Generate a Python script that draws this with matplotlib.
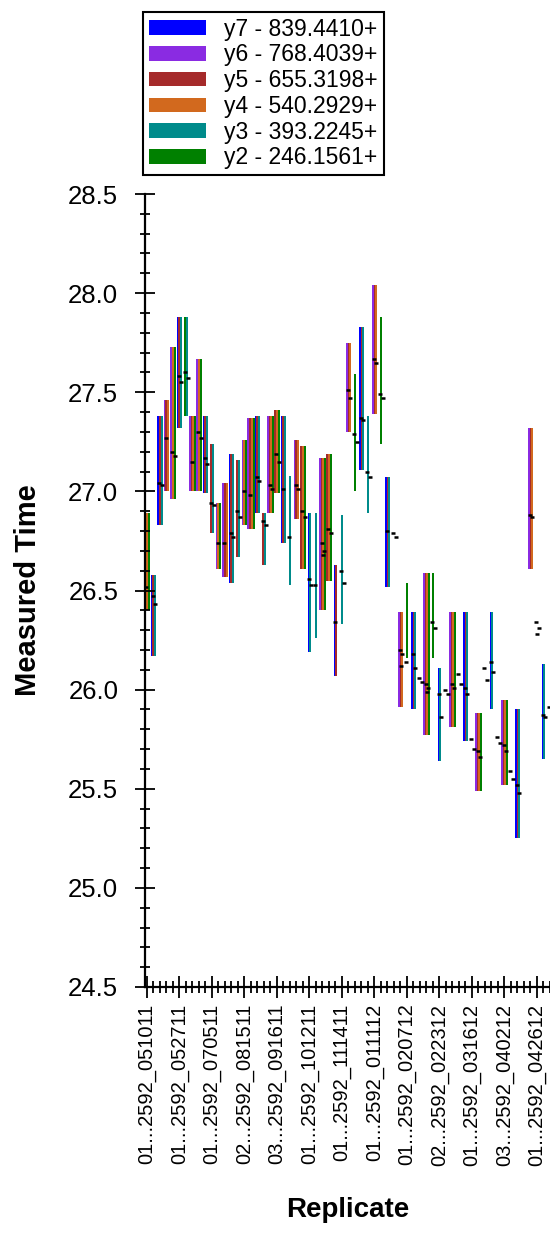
import numpy as np
import matplotlib
matplotlib.use("Agg")
import matplotlib.pyplot as plt
from matplotlib.ticker import MultipleLocator

plt.rcParams['font.family'] = ['Liberation Sans', 'DejaVu Sans']

# range of measured time for each replicate (nan = no range bar)
bar_lo = [26.40, 26.17, 26.83, 27.00, 26.96, 27.32, 27.38, 27.00, 27.00, 26.99,
          26.79, 26.61, 26.57, 26.54, 26.67, 26.83, 26.81, 26.89, 26.63, 26.89,
          26.99, 26.74, 26.53, 26.86, 26.61, 26.19, 26.26, 26.40, 26.55, 26.07,
          26.33, 27.30, 27.00, 27.11, 26.89, 27.39, 27.24, 26.52, np.nan, 25.91,
          26.16, 25.90, np.nan, 25.77, 26.16, 25.64, np.nan, 25.81, np.nan, 25.74,
          np.nan, 25.49, np.nan, 25.90, np.nan, 25.52, np.nan, 25.25, np.nan, 26.61,
          np.nan, 25.65, np.nan]
bar_hi = [26.89, 26.58, 27.38, 27.46, 27.73, 27.88, 27.88, 27.38, 27.67, 27.38,
          27.24, 26.94, 27.04, 27.19, 27.16, 27.26, 27.37, 27.38, 26.89, 27.38,
          27.41, 27.38, 27.08, 27.26, 27.23, 26.89, 26.89, 27.17, 27.19, 26.63,
          26.88, 27.75, 27.59, 27.83, 27.38, 28.04, 27.88, 27.07, np.nan, 26.39,
          26.54, 26.39, np.nan, 26.59, 26.59, 26.11, np.nan, 26.39, np.nan, 26.39,
          np.nan, 25.88, np.nan, 26.39, np.nan, 25.95, np.nan, 25.90, np.nan, 27.32,
          np.nan, 26.13, np.nan]
# which y series have a range in each replicate
bar_series = ["642", "753", "753", "654", "642", "753", "23", "6542", "642", "753",
              "53", "642", "654", "753", "53", "642", "6542", "753", "53", "6542",
              "542", "753", "3", "654", "542", "73", "3", "6542", "542", "75",
              "3", "654", "2", "753", "3", "654", "2", "753", "", "654",
              "2", "753", "", "6542", "2", "73", "", "6542", "", "753",
              "", "6542", "", "73", "", "6542", "", "753", "", "654",
              "", "73", ""]

# individual means (black dashes)
mark_cat = [0, 1, 1, 2, 2, 3, 4, 4, 5, 5, 6, 6, 7, 8, 8, 9, 9, 10, 10, 11, 12,
            13, 13, 14, 14, 15, 16, 17, 17, 18, 18, 19, 19, 20, 20, 21, 22,
            23, 23, 24, 24, 25, 25, 26, 27, 27, 27, 28, 28, 29, 30, 30,
            31, 31, 32, 32, 33, 33, 34, 34, 35, 35, 36, 36, 37, 38, 38,
            39, 39, 39, 40, 41, 41, 42, 42, 43, 43, 43, 44, 44, 45, 45,
            46, 46, 47, 47, 48, 48, 49, 49, 50, 50, 51, 51, 52, 52, 53, 53,
            54, 54, 55, 55, 56, 56, 57, 57, 59, 59, 60, 60, 60, 61, 61, 62]
mark_val = [26.52, 26.47, 26.43, 27.04, 27.03, 27.27, 27.20, 27.18, 27.58, 27.55,
            27.60, 27.57, 27.15, 27.30, 27.27, 27.17, 27.14, 26.94, 26.93, 26.74,
            26.74, 26.79, 26.77, 26.90, 26.87, 27.00, 26.98, 27.07, 27.05, 26.85,
            26.83, 27.03, 27.01, 27.19, 27.15, 27.01, 26.77, 27.03, 27.01, 26.90,
            26.87, 26.56, 26.53, 26.53, 26.74, 26.70, 26.68, 26.81, 26.79, 26.34,
            26.60, 26.54, 27.51, 27.47, 27.29, 27.25, 27.37, 27.36, 27.10, 27.07,
            27.67, 27.65, 27.49, 27.47, 26.80, 26.79, 26.77, 26.20, 26.18, 26.12,
            26.14, 26.18, 26.11, 26.06, 26.04, 26.03, 26.01, 25.99, 26.34, 26.31,
            25.98, 25.86, 26.00, 25.98, 26.03, 26.01, 26.08, 26.03, 26.01, 25.98,
            25.75, 25.70, 25.69, 25.66, 26.11, 26.05, 26.14, 26.09, 25.76, 25.73,
            25.72, 25.69, 25.59, 25.55, 25.52, 25.48, 26.88, 26.87, 26.34, 26.31,
            26.28, 25.87, 25.86, 25.91]

tick_labels = ["01...2592_051011", "01...2592_052711", "01...2592_070511",
               "02...2592_081511", "03...2592_091611", "01...2592_101211",
               "01...2592_111411", "01...2592_011112", "01...2592_020712",
               "02...2592_022312", "01...2592_031612", "03...2592_040212",
               "01...2592_042612"]

series_keys = ["7", "6", "5", "4", "3", "2"]
series_names = ["y7 - 839.4410+", "y6 - 768.4039+", "y5 - 655.3198+",
                "y4 - 540.2929+", "y3 - 393.2245+", "y2 - 246.1561+"]
series_colors = {"7": "#0000ff", "6": "#8a2be2", "5": "#a52a2a",
                 "4": "#d2691e", "3": "#008b8b", "2": "#008000"}
stripe_order = ["7", "6", "5", "4", "2", "3"]
stripe_w = 0.3

# stripes of each replicate sit side by side, centred on the replicate
pos = {k: ([], [], []) for k in series_keys}
for i, s in enumerate(bar_series):
    present = [k for k in stripe_order if k in s]
    n = len(present)
    for j, k in enumerate(present):
        pos[k][0].append(i + (j - (n - 1) / 2) * stripe_w)
        pos[k][1].append(bar_lo[i])
        pos[k][2].append(bar_hi[i] - bar_lo[i])

fig = plt.figure(figsize=(5.5, 12.35), dpi=100)
ax = fig.add_axes([145 / 550, 1 - 987 / 1235, 405 / 550, 793 / 1235])

for k, name in zip(series_keys, series_names):
    x, lo, h = pos[k]
    ax.bar(x, h, bottom=lo, width=stripe_w, color=series_colors[k],
           linewidth=0, label=name)

offsets = [-0.1, 0.25, 0.05]
seen = {}
for c, v in zip(mark_cat, mark_val):
    n = seen.get(c, 0)
    seen[c] = n + 1
    xc = c + offsets[n % 3]
    ax.hlines(v, xc - 0.3, xc + 0.3, color="black", linewidth=1.8)

ax.set_xlim(-0.3, 62.0)
ax.set_ylim(24.5, 28.5)

ax.yaxis.set_major_locator(MultipleLocator(0.5))
ax.yaxis.set_minor_locator(MultipleLocator(0.1))
ax.yaxis.set_major_formatter(matplotlib.ticker.FormatStrFormatter("%.1f"))
ax.set_xticks(np.arange(0, 61, 5))
ax.set_xticklabels(tick_labels, rotation=90, va="top", ha="center")
ax.xaxis.set_minor_locator(MultipleLocator(1))

ax.tick_params(axis="y", which="major", direction="inout", length=14.4,
               width=1.3, labelsize=18.5, pad=12, colors="black")
ax.tick_params(axis="y", which="minor", direction="inout", length=7.2, width=1.3)
ax.tick_params(axis="x", which="major", direction="inout", length=16,
               width=1.3, labelsize=14.5, pad=4)
ax.tick_params(axis="x", which="minor", direction="inout", length=8.6, width=1.3)

for side in ["top", "right"]:
    ax.spines[side].set_visible(False)
for side in ["left", "bottom"]:
    ax.spines[side].set_linewidth(1.6)
    ax.spines[side].set_color("black")

fig.text(28 / 550, 1 - 590 / 1235, "Measured Time", rotation=90, ha="center",
         va="center", fontsize=21, fontweight="bold")
fig.text(348 / 550, 1 - 1210 / 1235, "Replicate", ha="center", va="center",
         fontsize=20, fontweight="bold")

handles, labels = ax.get_legend_handles_labels()
leg = fig.legend(handles, labels, loc="upper left",
                 bbox_to_anchor=(143 / 550, 1 - 12 / 1235), frameon=True,
                 fancybox=False, edgecolor="black", framealpha=1, fontsize=16.5,
                 handlelength=2.5, handleheight=0.6, labelspacing=0.12,
                 handletextpad=0.8, borderpad=0.25, borderaxespad=0)
leg.get_frame().set_linewidth(1.5)

fig.savefig("out.png", dpi=100)
